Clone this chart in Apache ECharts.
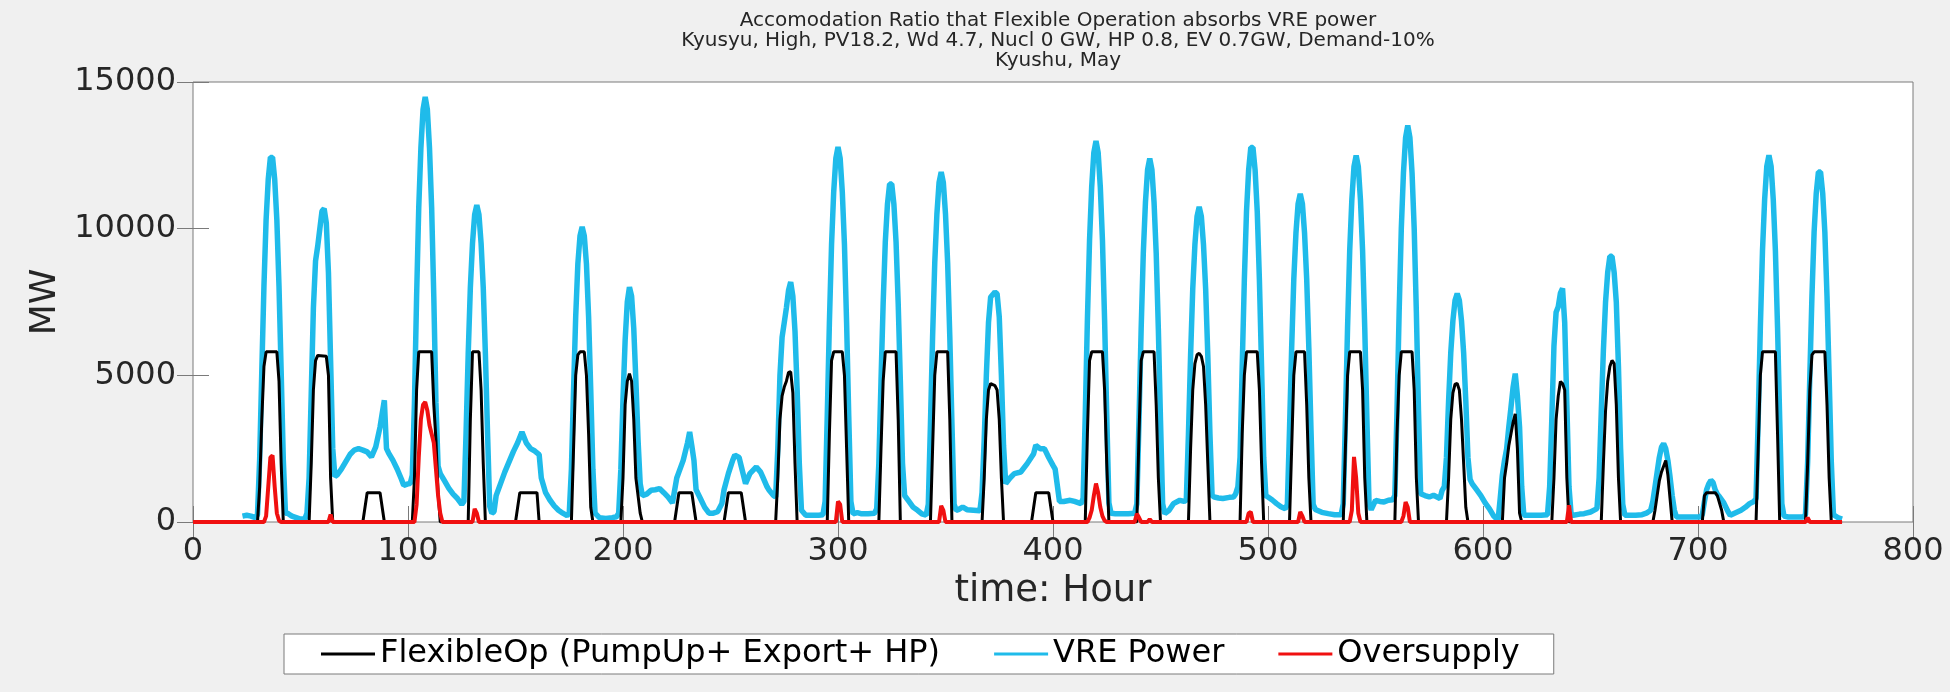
<!DOCTYPE html>
<html><head><meta charset="utf-8">
<script src="https://cdn.jsdelivr.net/npm/echarts@6/dist/echarts.min.js"></script>
<style>html,body{margin:0;padding:0;background:#f0f0f0}#c{width:1950px;height:692px}</style>
</head><body><div id="c"></div><script>
const titleLines = [
  'Accomodation Ratio that Flexible Operation absorbs VRE power',
  'Kyusyu, High, PV18.2, Wd 4.7, Nucl 0 GW, HP 0.8, EV 0.7GW, Demand-10%',
  'Kyushu, May'
];
const seriesNames = ['FlexibleOp (PumpUp+ Export+ HP)', 'VRE Power', 'Oversupply'];
const xLabel = 'time: Hour';
const yLabel = 'MW';
const xRange = [0, 800, 100];
const yRange = [0, 15000, 5000];

// [hour, MW]
const flexOp = [[0,0],
[30,0],[31,1200],[32,3500],[33,5300],[34,5800],[39,5800],[40,4800],[41,2000],[42,0],
[54,0],[55,2000],[56,4500],[57,5500],[58,5680],[62,5650],[63,5000],[64,1500],[65,0],
[79,0],[81,1000],[87,1000],[89,0],
[102,0],[103,1500],[104,4500],[105,5800],[111,5800],[112,4000],[113,2800],[114,1000],[115,0],
[128,0],[129,3500],[130,5800],[133,5800],[134,4500],[135,2000],[136,0],
[150,0],[152,1000],[160,1000],[161,0],
[176,0],[177,2500],[178,5000],[179,5700],[180,5800],[182,5800],[183,5000],[184,3000],[185,500],[186,0],
[199,0],[200,1500],[201,4000],[202,4800],[203,5060],[204,4800],[205,3500],[206,1500],[208,300],[209,0],
[224,0],[226,1000],[232,1000],[234,0],
[247,0],[249,1000],[255,1000],[257,0],
[271,0],[272,1500],[273,3500],[274,4300],[275,4600],[276,4800],[277,5100],[278,5120],[279,4400],[280,2000],[281,0],
[295,0],[296,3000],[297,5500],[298,5800],[302,5800],[303,5000],[304,2500],[305,0],
[319,0],[320,2500],[321,4800],[322,5800],[327,5800],[328,3500],[329,0],
[343,0],[344,2500],[345,5000],[346,5800],[351,5800],[352,3500],[353,0],
[367,0],[368,1500],[369,3500],[370,4500],[371,4720],[373,4650],[374,4500],[375,3500],[376,1500],[377,0],
[390,0],[392,1000],[398,1000],[400,0],
[415,0],[416,3000],[417,5500],[418,5800],[423,5800],[424,4500],[425,2000],[426,0],
[439,0],[440,3000],[441,5500],[442,5800],[447,5800],[448,4000],[449,1500],[450,0],
[463,0],[464,2500],[465,4500],[466,5400],[467,5700],[468,5750],[469,5650],[470,5300],[471,4000],[472,2000],[473,0],
[487,0],[488,3000],[489,5000],[490,5800],[495,5800],[496,4500],[497,2000],[498,0],
[510,0],[511,2500],[512,5000],[513,5800],[517,5800],[518,4000],[519,1500],[520,0],
[535,0],[536,2500],[537,5000],[538,5800],[543,5800],[544,4500],[545,1500],[546,0],
[559,0],[560,3000],[561,5000],[562,5800],[567,5800],[568,4500],[569,1500],[570,0],
[583,0],[584,1500],[585,3500],[586,4400],[587,4700],[588,4720],[589,4500],[590,3500],[591,2000],[592,500],[593,0],
[609,0],[610,1500],[611,2000],[612,2600],[613,3000],[614,3400],[615,3690],[616,2500],[617,300],[618,0],
[632,0],[633,1500],[634,3500],[635,4300],[636,4790],[637,4720],[638,4500],[639,1500],[640,0],
[655,0],[656,2000],[657,3800],[658,4800],[659,5300],[660,5510],[661,5400],[662,4000],[663,1500],[664,0],
[679,0],[680,400],[681,900],[682,1400],[683,1700],[684,1900],[685,2100],[686,1600],[687,800],[688,0],
[702,0],[703,900],[704,1000],[708,1000],[709,900],[711,400],[712,0],
[727,0],[728,2500],[729,5000],[730,5800],[736,5800],[737,3000],[738,0],
[750,0],[751,2000],[752,4500],[753,5700],[754,5800],[759,5800],[760,4000],[761,1500],[762,0],
[767,0]];

const vrePower = [[23,200],[25,230],[27,200],[29,150],
[30,250],[31,2130],[32,5150],[33,8040],[34,10300],[35,11680],[36,12430],[37,12430],[38,11680],[39,10300],[40,8040],[41,5150],[42,2130],[43,300],
[44,300],[45,250],[46,200],[48,150],[50,100],[52,100],
[53,300],[54,1500],[55,4400],[56,7300],[57,8900],[58,9400],[59,10000],[60,10600],[61,10680],[62,10200],[63,8500],[64,5500],[65,2500],[66,1550],
[67,1600],[69,1800],[71,2050],[73,2300],[75,2450],[77,2500],[79,2450],[81,2390],[83,2220],[85,2560],[87,3240],[88,3700],[89,4150],[90,2500],[91,2350],[93,2100],[95,1800],[97,1450],[98,1250],[100,1300],[101,1310],
[102,1600],[103,4060],[104,7680],[105,10720],[106,12750],[107,14060],[108,14490],[109,14060],[110,12750],[111,10720],[112,7680],[113,4060],[114,1900],[115,1650],
[117,1400],[119,1150],[121,950],[123,800],[125,600],
[126,700],[127,3020],[128,5720],[129,7990],[130,9500],[131,10480],[132,10800],[133,10480],[134,9500],[135,7990],[136,5720],[137,3020],[138,540],
[139,300],[140,350],[141,900],[143,1300],[145,1700],[147,2050],[149,2400],[151,2700],[153,3070],[155,2700],[157,2500],[159,2420],[161,2300],[162,1500],[164,1000],[166,750],[168,550],[170,400],[172,300],[174,220],
[175,300],[176,1800],[177,4500],[178,7000],[179,8800],[180,9750],[181,10060],[182,9750],[183,8800],[184,7000],[185,4500],[186,1800],[187,300],
[189,150],[192,120],[195,150],[197,180],
[198,300],[199,1800],[200,4200],[201,6200],[202,7500],[203,8010],[204,7700],[205,6600],[206,4800],[207,2800],[208,1300],[209,900],
[211,950],[213,1080],[215,1100],[217,1140],[219,1000],[221,850],[223,650],[225,1500],[226,1700],[228,2100],[230,2700],[231,3070],[232,2600],[233,2100],[234,1100],[236,800],[238,500],[240,300],[242,300],[244,350],[246,630],[247,1100],[249,1650],[251,2100],[252,2280],[254,2200],[255,1900],[257,1310],[259,1650],[261,1800],[262,1875],[264,1700],[265,1535],[267,1200],[268,1080],[270,900],
[271,850],[272,2500],[273,5000],[274,6300],[275,6800],[276,7300],[277,7900],[278,8180],[279,7700],[280,6500],[281,4500],[282,2000],[283,400],
[285,230],[288,230],[291,230],[293,250],
[294,700],[295,3600],[296,6800],[297,9460],[298,11250],[299,12400],[300,12780],[301,12400],[302,11250],[303,9460],[304,6800],[305,3600],[306,700],[307,280],
[309,320],[311,280],[314,280],[317,300],
[318,450],[319,2000],[320,4800],[321,7450],[322,9550],[323,10830],[324,11520],[325,11520],[326,10830],[327,9550],[328,7450],[329,4800],[330,2000],[331,900],
[333,700],[335,500],[337,400],[339,280],[341,230],
[342,600],[343,3340],[344,6320],[345,8830],[346,10500],[347,11570],[348,11930],[349,11570],[350,10500],[351,8830],[352,6320],[353,3340],[354,600],[355,400],
[356,420],[358,512],[360,420],[363,400],[366,380],
[367,1000],[368,2800],[369,5000],[370,6800],[371,7670],[372,7750],[373,7840],[374,7780],[375,7000],[376,5000],[377,2600],[378,1310],
[380,1500],[382,1650],[385,1705],[388,1990],[391,2330],[392,2615],[394,2500],[396,2500],[398,2200],[400,1930],[401,1800],[403,700],[405,700],[408,740],[410,700],[413,625],
[414,800],[415,3640],[416,6880],[417,9610],[418,11430],[419,12600],[420,12990],[421,12600],[422,11430],[423,9610],[424,6880],[425,3640],[426,650],[427,300],
[429,280],[432,280],[435,280],[438,300],
[439,620],[440,3470],[441,6570],[442,9170],[443,10900],[444,12020],[445,12390],[446,12020],[447,10900],[448,9170],[449,6570],[450,3470],[451,620],[452,285],
[454,400],[456,625],[459,740],[461,700],
[462,750],[463,3000],[464,5690],[465,7950],[466,9450],[467,10420],[468,10740],[469,10420],[470,9450],[471,7950],[472,5690],[473,3000],[474,900],[475,850],
[477,820],[479,800],[482,840],[484,853],[485,965],
[486,1200],[487,2200],[488,5300],[489,8260],[490,10580],[491,12000],[492,12770],[493,12770],[494,12000],[495,10580],[496,8260],[497,5300],[498,2200],[499,900],
[500,853],[502,750],[504,626],[506,520],[508,455],
[509,600],[510,3130],[511,5930],[512,8280],[513,9850],[514,10850],[515,11190],[516,10850],[517,9850],[518,8280],[519,5930],[520,3130],[521,600],[522,430],
[525,330],[528,285],[531,250],[534,250],
[535,620],[536,3500],[537,6620],[538,9240],[539,10990],[540,12120],[541,12490],[542,12120],[543,10990],[544,9240],[545,6620],[546,3500],[547,620],[548,420],
[550,740],[552,700],[554,685],[556,740],[558,760],
[559,900],[560,3790],[561,7170],[562,10000],[563,11900],[564,13110],[565,13520],[566,13110],[567,11900],[568,10000],[569,7170],[570,3790],[571,965],
[573,900],[575,853],[577,910],[580,800],[581,1080],
[582,1200],[583,2200],[584,4130],[585,5760],[586,6860],[587,7560],[588,7790],[589,7560],[590,6860],[591,5760],[592,4130],[593,2200],[594,1450],
[595,1300],[597,1100],[599,900],[601,650],[603,450],[605,200],[607,60],
[608,800],[609,1600],[610,2100],[611,2500],[612,3240],[613,3900],[614,4600],[615,5060],[616,4300],[617,3240],[618,1200],[619,230],
[621,230],[624,230],[627,230],[630,250],
[631,1200],[632,3500],[633,6000],[634,7150],[635,7340],[636,7800],[637,7960],[638,6800],[639,4000],[640,1200],[641,250],
[642,228],[645,270],[647,285],[650,340],[653,455],
[654,1500],[655,3750],[656,5860],[657,7500],[658,8510],[659,9060],[660,9060],[661,8510],[662,7500],[663,5300],[664,2500],[665,600],[666,228],
[668,228],[671,228],[674,250],[676,300],[678,400],
[679,700],[680,1200],[681,1700],[682,2200],[683,2550],[684,2670],[685,2500],[686,2100],[687,1535],[688,900],[689,400],[690,170],
[692,170],[695,170],[698,170],[701,170],
[702,250],[703,700],[704,1100],[705,1300],[706,1420],[707,1350],[708,1100],[709,950],[710,860],[712,650],[714,350],[715,230],[717,300],[720,400],[722,500],[724,626],[726,700],
[727,800],[728,3500],[729,6630],[730,9250],[731,11000],[732,12130],[733,12500],[734,12130],[735,11000],[736,9250],[737,6630],[738,3500],[739,620],[740,200],
[742,170],[745,170],[748,170],[749,170],
[750,250],[751,2050],[752,4940],[753,7710],[754,9880],[755,11210],[756,11930],[757,11930],[758,11210],[759,9880],[760,7710],[761,4940],[762,2050],[763,250],[765,150],[767,100]];

const oversupply = [[0,0],
[33,0],[34,200],[35,1200],[36,2200],[37,2270],[38,1200],[39,300],[40,50],[41,0],
[63,0],[64,250],[65,0],
[103,0],[104,600],[105,2200],[106,3500],[107,4000],[108,4090],[109,3800],[110,3300],[111,3000],[112,2700],[113,1800],[114,900],[115,300],[116,0],
[130,0],[131,450],[132,300],[133,0],
[299,0],[300,700],[301,600],[302,0],
[347,0],[348,550],[349,400],[350,0],
[416,0],[417,150],[418,400],[419,900],[420,1310],[421,1000],[422,500],[423,200],[424,50],[425,0],
[438,0],[439,280],[440,150],[441,0],
[444,0],[445,100],[446,0],
[490,0],[491,300],[492,340],[493,0],
[514,0],[515,340],[516,200],[517,0],
[538,0],[539,400],[540,2220],[541,1500],[542,300],[543,0],
[562,0],[563,200],[564,680],[565,500],[566,0],
[639,0],[640,570],[641,0],
[750,0],[751,150],[752,0],
[767,0]];

const seriesColors = ['#000000', '#1fbbea', '#f01010'];

const FONT = 'DejaVu Sans';
const TXT = '#262626';
const BOX = '#7a7a7a';

function axisCommon(range, pos, showLabel) {
  return {
    type: 'value', min: range[0], max: range[1], interval: range[2], position: pos,
    axisLine: {show: false},
    axisTick: {show: true, inside: true, length: 16, lineStyle: {color: BOX, width: 1}},
    axisLabel: {show: showLabel, fontSize: 32, color: TXT, fontFamily: FONT, margin: 14,
      formatter: function (v) { return String(v); }},
    splitLine: {show: false}
  };
}

const chart = echarts.init(document.getElementById('c'), null, {renderer: 'canvas'});
const xBottom = Object.assign(axisCommon(xRange, 'bottom', true), {
  name: xLabel, nameLocation: 'middle', nameGap: 49,
  nameTextStyle: {fontSize: 37, color: TXT, fontFamily: FONT}
});
const yLeft = Object.assign(axisCommon(yRange, 'left', true), {
  name: yLabel, nameLocation: 'middle', nameGap: 118, nameRotate: 90,
  nameTextStyle: {fontSize: 36, color: TXT, fontFamily: FONT}
});
yLeft.axisLabel.margin = 17;

chart.setOption({
  animation: false,
  backgroundColor: '#f0f0f0',
  textStyle: {fontFamily: FONT},
  title: {
    text: titleLines.join('\n'),
    left: 1053, top: 6, textAlign: 'center',
    textStyle: {fontSize: 20, fontWeight: 'normal', color: TXT, fontFamily: FONT, lineHeight: 20}
  },
  grid: {left: 193, top: 82, width: 1720, height: 440, show: true,
    backgroundColor: '#ffffff', borderColor: BOX, borderWidth: 1},
  legend: {
    data: seriesNames, left: 284, top: 634, orient: 'horizontal',
    icon: 'rect', itemWidth: 54, itemHeight: 3, itemGap: 54,
    padding: [4, 34, 4, 37],
    backgroundColor: '#ffffff', borderColor: BOX, borderWidth: 1,
    textStyle: {fontSize: 32, color: '#000', fontFamily: FONT}
  },
  xAxis: [xBottom, axisCommon(xRange, 'top', false)],
  yAxis: [yLeft, axisCommon(yRange, 'right', false)],
  series: [
    {name: seriesNames[0], type: 'line', data: flexOp, showSymbol: false, symbol: 'none', z: 3,
      color: seriesColors[0], lineStyle: {color: seriesColors[0], width: 3}},
    {name: seriesNames[1], type: 'line', data: vrePower, showSymbol: false, symbol: 'none', z: 2,
      color: seriesColors[1], lineStyle: {color: seriesColors[1], width: 5.5}},
    {name: seriesNames[2], type: 'line', data: oversupply, showSymbol: false, symbol: 'none', z: 4,
      color: seriesColors[2], lineStyle: {color: seriesColors[2], width: 4}}
  ]
});
</script></body></html>
